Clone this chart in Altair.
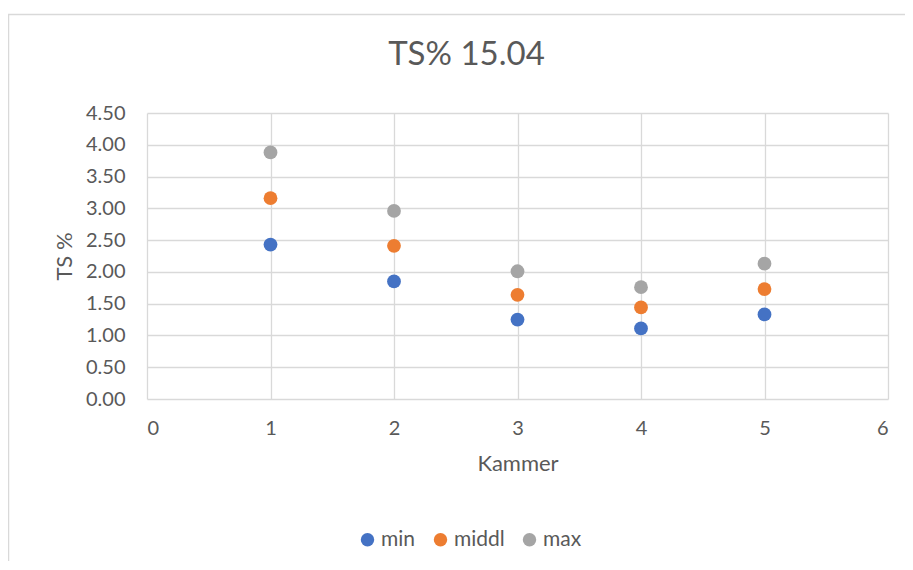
import altair as alt
import pandas as pd

kammer = [1, 2, 3, 4, 5]
min_vals = [2.43, 1.85, 1.25, 1.11, 1.33]
middl_vals = [3.16, 2.41, 1.64, 1.44, 1.73]
max_vals = [3.88, 2.96, 2.01, 1.76, 2.13]
series = ["min", "middl", "max"]
colors = ["#4472C4", "#ED7D31", "#A5A5A5"]

rows = []
for name, vals in zip(series, [min_vals, middl_vals, max_vals]):
    for k, v in zip(kammer, vals):
        rows.append({"Kammer": k, "TS": v, "series": name})
df = pd.DataFrame(rows)

FONT = "Lato"
GRAY = "#595959"
W, H = 741, 286

points = alt.Chart(df).mark_circle(size=190, opacity=1).encode(
    x=alt.X("Kammer:Q", scale=alt.Scale(domain=[0, 6], nice=False),
            axis=alt.Axis(values=[0, 1, 2, 3, 4, 5, 6], title="Kammer", grid=True,
                          domain=False, ticks=False, labelPadding=19, titlePadding=15)),
    y=alt.Y("TS:Q", scale=alt.Scale(domain=[0, 4.5], nice=False),
            axis=alt.Axis(values=[0, 0.5, 1, 1.5, 2, 2.5, 3, 3.5, 4, 4.5], format=".2f",
                          title="TS %", grid=True, domain=False, ticks=False,
                          labelPadding=22, titlePadding=9)),
    color=alt.Color("series:N", scale=alt.Scale(domain=series, range=colors),
                    legend=alt.Legend(title=None, orient="none", direction="horizontal",
                                      legendX=210, legendY=416, symbolType="circle",
                                      symbolSize=180, symbolStrokeWidth=0,
                                      labelFontSize=21, labelFont=FONT, labelColor=GRAY,
                                      columnPadding=14, labelOffset=3)),
)

border_df = pd.DataFrame({"a": [0]})
border = alt.Chart(border_df).mark_rect(fill=None, stroke="#D9D9D9", strokeWidth=1.5, clip=False).encode(
    x=alt.value(-138.5), x2=alt.value(W + 200), y=alt.value(-98.5), y2=alt.value(H + 300)
)

chart = alt.layer(border, points).properties(
    width=W, height=H,
    title=alt.TitleParams("TS% 15.04", anchor="middle", frame="group", dx=-51,
                          fontSize=33, font=FONT, fontWeight="normal", color=GRAY, offset=-58),
    autosize=alt.AutoSizeParams(type="none"),
    padding={"left": 139, "top": 105, "right": 17, "bottom": 162},
).configure_view(stroke=None).configure_axis(
    gridColor="#D9D9D9", gridWidth=1.3, labelFont=FONT, labelFontSize=20, labelColor=GRAY,
    titleFont=FONT, titleFontSize=22, titleColor=GRAY, titleFontWeight="normal"
)

chart.save("out.html", embed_options={"renderer": "svg", "actions": False})
